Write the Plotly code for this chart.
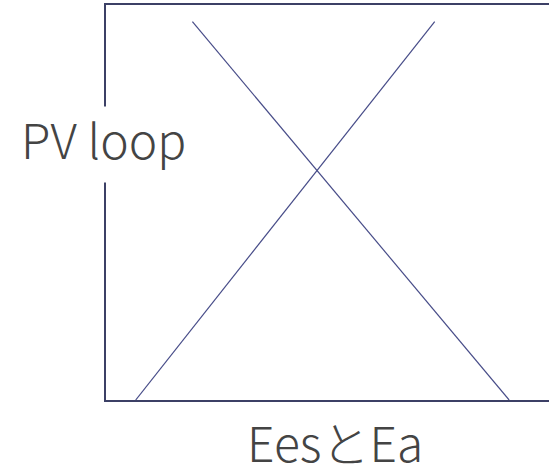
import plotly.graph_objects as go

# Data (axis units 0-100)
line_a_x = [19.5, 91.0]
line_a_y = [95.8, 0.0]
line_b_x = [6.7, 74.2]
line_b_y = [0.0, 95.8]
y_label = "PV loop"
x_label = "EesとEa"

axis_color = "#3c4066"
line_color = "#474c88"
text_color = "#444444"
font_family = "Noto Sans CJK JP"

fig = go.Figure()
fig.add_trace(go.Scatter(x=line_a_x, y=line_a_y, mode="lines",
                         line=dict(color=line_color, width=1.2), showlegend=False))
fig.add_trace(go.Scatter(x=line_b_x, y=line_b_y, mode="lines",
                         line=dict(color=line_color, width=1.2), showlegend=False))

fig.update_layout(
    width=549, height=475,
    margin=dict(l=106, r=0, t=5, b=75),
    paper_bgcolor="white", plot_bgcolor="white",
    font=dict(family=font_family, color=text_color),
    xaxis=dict(range=[0, 100], showline=True, mirror=True, linecolor=axis_color,
               linewidth=2, showgrid=False, zeroline=False, showticklabels=False, ticks=""),
    yaxis=dict(range=[0, 100], showline=True, mirror=False, linecolor=axis_color,
               linewidth=2, showgrid=False, zeroline=False, showticklabels=False, ticks=""),
    annotations=[
        # white block hiding the axis behind the label
        dict(text=" ", xref="paper", yref="paper", x=0, y=0.647,
             xanchor="center", yanchor="middle", showarrow=False,
             width=30, height=75, borderpad=0, bgcolor="white",
             font=dict(size=10)),
        dict(text=y_label, xref="paper", yref="paper", x=-0.223, y=0.663,
             xanchor="left", yanchor="middle", showarrow=False,
             font=dict(size=48, color=text_color, family=font_family, weight=300),
             borderpad=13),
        dict(text=x_label, xref="paper", yref="paper", x=0.517, y=-0.104,
             xanchor="center", yanchor="middle", showarrow=False,
             font=dict(size=48, color=text_color, family=font_family, weight=300)),
    ],
)

fig.write_html("out.html", config={"displayModeBar": False},
               post_script="document.body.style.margin='0';document.body.style.padding='0';")
